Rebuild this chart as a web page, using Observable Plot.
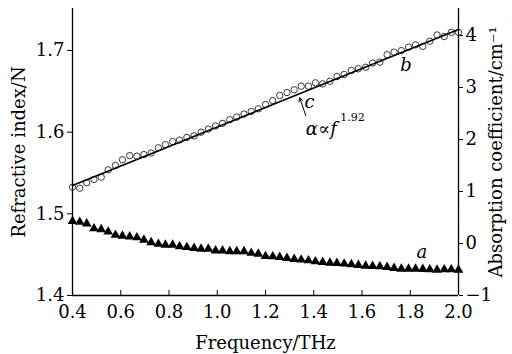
<!DOCTYPE html>
<html><head><meta charset="utf-8">
<script src="https://cdn.jsdelivr.net/npm/d3@7"></script>
<script src="https://cdn.jsdelivr.net/npm/@observablehq/plot@0.6"></script>
<style>body{margin:0;background:#fff}</style>
</head><body><div id="chart"></div>
<script>
const freq = [0.400,0.430,0.459,0.489,0.519,0.548,0.578,0.607,0.637,0.667,0.696,0.726,0.756,0.785,0.815,0.844,0.874,0.904,0.933,0.963,0.993,1.022,1.052,1.081,1.111,1.141,1.170,1.200,1.230,1.259,1.289,1.319,1.348,1.378,1.407,1.437,1.467,1.496,1.526,1.556,1.585,1.615,1.644,1.674,1.704,1.733,1.763,1.793,1.822,1.852,1.881,1.911,1.941,1.970,2.000];
const refractiveIndex = [1.491,1.490,1.488,1.482,1.481,1.478,1.474,1.473,1.472,1.471,1.468,1.465,1.463,1.462,1.462,1.460,1.459,1.458,1.457,1.457,1.455,1.455,1.454,1.454,1.454,1.452,1.451,1.448,1.4477,1.4469,1.4457,1.4445,1.4437,1.4428,1.4416,1.4408,1.440,1.4396,1.4388,1.4380,1.4371,1.4363,1.4359,1.4355,1.4347,1.4335,1.4326,1.4326,1.4326,1.4322,1.4318,1.4314,1.4318,1.4318,1.4314];
const absorption = [1.083,1.063,1.167,1.231,1.275,1.417,1.50,1.61,1.69,1.68,1.71,1.74,1.84,1.90,1.96,1.99,2.04,2.07,2.14,2.20,2.26,2.31,2.38,2.43,2.49,2.538,2.59,2.673,2.75,2.846,2.904,2.955,3.025,3.025,3.09,3.07,3.12,3.21,3.25,3.327,3.36,3.39,3.47,3.487,3.63,3.68,3.71,3.775,3.82,3.79,3.89,4.01,3.98,4.06,4.06];
const fitFreq = [0.4, 2.0];
const fitAbsorption = [1.115, 4.115];
const xTicks = [0.4,0.6,0.8,1.0,1.2,1.4,1.6,1.8,2.0];
const leftTicks = [1.4,1.5,1.6,1.7];
const rightTicks = [-1,0,1,2,3,4];
const leftDomain = [1.4, 1.7514];
const rightDomain = [-1, 4.519];
const toLeft = v => leftDomain[0] + (v - rightDomain[0]) * (leftDomain[1]-leftDomain[0]) / (rightDomain[1]-rightDomain[0]);

const triData = freq.map((f,i)=>({f, n: refractiveIndex[i]}));
const circData = freq.map((f,i)=>({f, a: absorption[i]}));
const fitData = fitFreq.map((f,i)=>({f, a: fitAbsorption[i]}));

// annotation labels (data units; y given on the axis they refer to)
const labelA = [{f:1.848, n:1.4527, t:"a"}];
const labelsRight = [{f:1.782, a:3.42, t:"b"}, {f:1.383, a:2.71, t:"c"}];
const formulaMain = [{f:1.367, a:2.20, t:"α∝f"}];
const formulaExp = [{f:1.51, a:2.43, t:"1.92"}];
const arrowData = [{f1:1.367, a1:2.46, f2:1.342, a2:2.80}];

const font = "DejaVu Serif";
const chart = Plot.plot({
  width: 512, height: 354,
  marginLeft: 72, marginRight: 54, marginTop: 8, marginBottom: 59,
  style: {fontFamily: font, fontSize: "18px", color: "#000", background: "#fff"},
  x: {domain: [0.4, 2.0]},
  y: {domain: leftDomain},
  marks: [
    Plot.dot(triData, {x: "f", y: "n", symbol: "triangle", r: 3.6, fill: "#000", stroke: "none"}),
    Plot.dot(circData, {x: "f", y: d => toLeft(d.a), r: 3.2, fill: "none", stroke: "#222", strokeWidth: 0.9}),
    Plot.line(fitData, {x: "f", y: d => toLeft(d.a), stroke: "#000", strokeWidth: 1.6}),
    Plot.arrow(arrowData, {x1: "f1", y1: d => toLeft(d.a1), x2: "f2", y2: d => toLeft(d.a2), stroke: "#000", strokeWidth: 1, headLength: 6}),
    Plot.text(labelA, {x: "f", y: "n", text: "t", fontStyle: "italic", fontSize: 18}),
    Plot.text(labelsRight, {x: "f", y: d => toLeft(d.a), text: "t", fontStyle: "italic", fontSize: 18}),
    Plot.text(formulaMain, {x: "f", y: d => toLeft(d.a), text: "t", fontStyle: "italic", fontSize: 18, textAnchor: "start"}),
    Plot.text(formulaExp, {x: "f", y: d => toLeft(d.a), text: "t", fontSize: 11, textAnchor: "start"}),
    Plot.ruleX([0.4, 2.0], {stroke: "#000", strokeWidth: 1.3}),
    Plot.ruleY([1.4], {stroke: "#000", strokeWidth: 1.3}),
    Plot.ruleX(xTicks, {stroke: "#000", insetTop: 282}),
    Plot.axisX({ticks: xTicks, tickFormat: d3.format(".1f"), tickSize: 0, tickPadding: 10, label: "Frequency/THz", labelAnchor: "center", labelArrow: "none", labelOffset: 53}),
    Plot.axisY({ticks: leftTicks, tickFormat: d3.format(".1f"), anchor: "left", tickSize: 5, tickPadding: 3, label: "Refractive index/N", labelAnchor: "center", labelArrow: "none", labelOffset: 60}),
    Plot.axisY(rightTicks.map(toLeft), {anchor: "right", tickFormat: (d, i) => d3.format("")(rightTicks[i]).replace("-", "−"), tickSize: 4, tickPadding: 3, label: "Absorption coefficient/cm⁻¹", labelAnchor: "center", labelArrow: "none", labelOffset: 43})
  ]
});
document.getElementById("chart").appendChild(chart);
</script>
</body></html>
